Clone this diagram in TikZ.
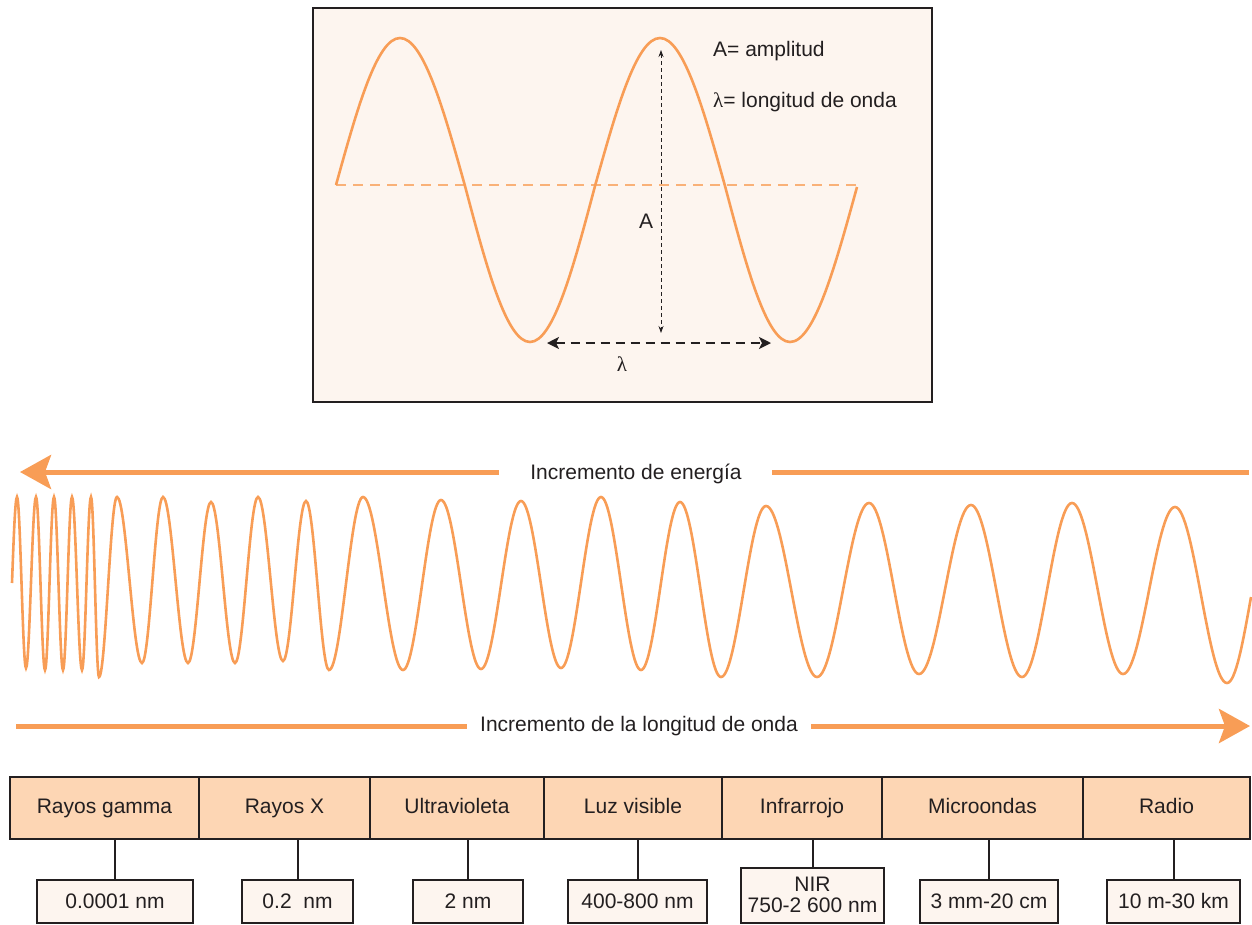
\documentclass[tikz,border=0pt]{standalone}
\usepackage{fontspec}
\setmainfont{Liberation Sans}
\newfontfamily\lamfont{Liberation Serif}
\usetikzlibrary{arrows.meta,positioning}
\definecolor{wavec}{RGB}{248,157,86}
\definecolor{cellc}{RGB}{253,214,180}
\definecolor{creamc}{RGB}{253,245,239}
\definecolor{linec}{RGB}{35,31,32}
\begin{document}
\begin{tikzpicture}[x=1pt,y=-1pt,every node/.style={font=\fontsize{21}{21}\selectfont,text=linec},
  band/.style={draw=linec,line width=2pt,fill=cellc,minimum height=62pt,inner sep=0pt,outer sep=0pt,text height=15pt,text depth=4pt},
  val/.style={draw=linec,line width=2pt,fill=creamc,minimum height=43pt,inner sep=0pt,outer sep=0pt},
  conn/.style={draw=linec,line width=2pt},
  wave/.style={draw=wavec,line width=2.6pt},
  bigarrow/.style={draw=wavec,line width=5pt},
  bighead/.style={-{Stealth[length=31pt,width=34pt,inset=6pt]}}]
\useasboundingbox (0,0) rectangle (1252,924);
% wave panel
\draw[draw=linec,line width=2.5pt,fill=creamc] (313,8) rectangle (932,402);
\draw[wavec!80,line width=2pt,dash pattern=on 10pt off 7pt] (336,185) -- (858,185);
\draw[wave] (336,185) sin (400,38) cos (465,186) sin (530,342) cos (595,186) sin (660,38) cos (725,186) sin (790,342) cos (857,187);
\coordinate (ampt) at (661,50); \coordinate (ampb) at (661,333);
\coordinate (lamL) at (547,343); \coordinate (lamR) at (771,343);
\draw[linec,line width=0.8pt,dash pattern=on 4pt off 3pt,{Stealth[length=7pt,width=5pt]}-{Stealth[length=7pt,width=5pt]}] (ampt) -- (ampb);
\draw[linec,line width=1.6pt,dash pattern=on 9pt off 6pt,{Stealth[length=12pt,width=12pt,inset=3pt]}-{Stealth[length=12pt,width=12pt,inset=3pt]}] (lamL) -- (lamR);
\node (alab) at (646,221) {A};
\node (llab) at (622,364) {\lamfont λ};
\node[anchor=west,inner sep=0pt] (adef) at (713,51) {A= amplitud};
\node[anchor=west,inner sep=0pt] (ldef) at (713,102) {{\lamfont λ}= longitud de onda};
% spectrum
\node (energy) at (636,474) {Incremento de energía};
\coordinate (eL) at (20,472); \coordinate (eR) at (1249,472);
\draw[bigarrow,bighead] ([xshift=-28pt]energy.west |- eL) -- (eL);
\draw[bigarrow] ([xshift=27pt]energy.east |- eR) -- (eR);
\draw[wave] (12,583) sin (17,497)
  \foreach \x/\y [remember=\x as \lx (initially 17),remember=\y as \ly (initially 497)] in
  {26/668,36/497,45/670,54/497,63/670,72/497,82/670,91/497,99/677,117/497,142/663,163/497,
   188/663,211/502,235/663,258/497,283/661,306/501,329/670,363/497,403/670,441/500,481/669,
   521/501,561/668,601/497,641/670,680/502,721/677,766/506,817/677,869/503,919/674,971/505,
   1022/677,1072/503,1123/674,1175/507,1227/683}
  { cos ({(\lx+\x)/2},{(\ly+\y)/2}) sin (\x,\y) }
  cos (1251,597);
\node (wlen) at (639,726) {Incremento de la longitud de onda};
\coordinate (wL) at (16,726); \coordinate (wR) at (1250,726);
\draw[bigarrow] ([xshift=-10pt]wlen.west |- wL) -- (wL);
\draw[bigarrow,bighead] ([xshift=10pt]wlen.east |- wR) -- (wR);
% bands
\node[band,minimum width=189pt,anchor=north west] (gamma) at (10,777) {Rayos gamma};
\node[band,minimum width=171pt,right=0pt of gamma] (xray) {Rayos X};
\node[band,minimum width=174pt,right=0pt of xray] (uv) {Ultravioleta};
\node[band,minimum width=178pt,right=0pt of uv] (vis) {Luz visible};
\node[band,minimum width=160pt,right=0pt of vis] (ir) {Infrarrojo};
\node[band,minimum width=201pt,right=0pt of ir] (micro) {Microondas};
\node[band,minimum width=167pt,right=0pt of micro] (radio) {Radio};
% values
\node[val,minimum width=156pt,text height=15pt,text depth=0pt] (vgamma) at (115,901) {0.0001 nm};
\node[val,minimum width=111pt,text height=15pt,text depth=0pt] (vxray) at (297.5,901) {0.2\ \ nm};
\node[val,minimum width=110pt,text height=15pt,text depth=0pt] (vuv) at (468,901) {2 nm};
\node[val,minimum width=139pt,text height=15pt,text depth=0pt] (vvis) at (637.5,901) {400-800 nm};
\node[val,minimum width=143pt,minimum height=55pt,align=center] (vir) at (812.5,895) {NIR\\750-2 600 nm};
\node[val,minimum width=138pt,text height=15pt,text depth=0pt] (vmicro) at (989,901) {3 mm-20 cm};
\node[val,minimum width=133pt,text height=15pt,text depth=0pt] (vradio) at (1173.5,901) {10 m-30 km};
\foreach \v/\b in {vgamma/gamma,vxray/xray,vuv/uv,vvis/vis,vir/ir,vmicro/micro,vradio/radio}
  \draw[conn] (\v.north) -- (\v.north |- \b.south);
\end{tikzpicture}
\end{document}
